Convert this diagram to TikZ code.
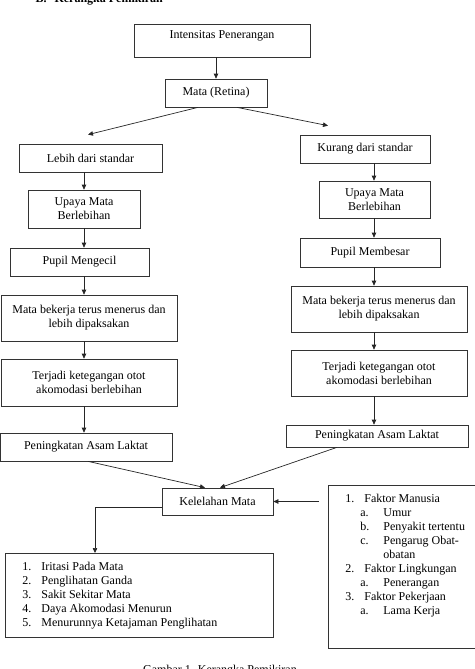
\documentclass[tikz,border=0pt]{standalone}
\usepackage{fontspec}
\setmainfont{Liberation Serif}
\usetikzlibrary{arrows.meta}

% list entries
\newcommand{\butir}[2]{\makebox[19pt][l]{#1}#2}
\newcommand{\subbutir}[2]{\hspace*{15pt}\makebox[23pt][l]{#1}#2}

\begin{document}
\begin{tikzpicture}[x = 1pt,
                    y = -1pt,
                    font = \fontsize{12}{14}\selectfont]
% styles of boxes and arrows
\tikzset{kotak/.style={draw=black!80,line width=0.7pt,align=center,inner sep=2pt},
         daftar/.style={draw=black!80,line width=0.7pt,anchor=north west,inner xsep=17pt,inner ysep=9pt},
         panah/.style={draw=black!85,line width=0.7pt,-{Triangle[length=5pt,width=4.5pt]}}}
\useasboundingbox (0,0) rectangle (474,669);
% columns of the vertical arrows
\coordinate (kolomkiri) at (84,0);
\coordinate (kolomkanan) at (374,0);

%title and caption
\node[anchor=base west,font=\fontsize{12}{14}\selectfont\bfseries] (judul) at (32,3)
  {\makebox[19pt][l]{B.}Kerangka Pemikiran};
\node[anchor=base] (keterangan) at (220,673) {Gambar 1. Kerangka Pemikiran};

%top
\node[kotak, minimum width=176pt, minimum height=33pt, text height=8.3pt, text depth=12pt]
  (intens) at (222,40.5) {Intensitas Penerangan};
\node[kotak, minimum width=102pt, minimum height=28pt] (mata) at (216,93) {Mata (Retina)};

%left branch
\node[kotak, minimum width=143pt, minimum height=28pt] (lebih) at (90.5,158) {Lebih dari standar};
\node[kotak, minimum width=112pt, minimum height=38pt] (upayakiri) at (84,209) {Upaya Mata\\Berlebihan};
\node[kotak, minimum width=139pt, minimum height=28pt] (pupilkiri) at (79.5,262) {Pupil Mengecil};
\node[kotak, minimum width=176pt, minimum height=46pt] (pakskiri) at (89,318)
  {Mata bekerja terus menerus dan\\lebih dipaksakan};
\node[kotak, minimum width=176pt, minimum height=47pt] (tegangkiri) at (89,382.5)
  {Terjadi ketegangan otot\\akomodasi berlebihan};
\node[kotak, minimum width=172pt, minimum height=28pt] (laktatkiri) at (86,447) {Peningkatan Asam Laktat};

%right branch
\node[kotak, minimum width=130pt, minimum height=28pt] (kurang) at (365,149) {Kurang dari standar};
\node[kotak, minimum width=111pt, minimum height=37pt] (upayakanan) at (374.5,199.5) {Upaya Mata\\Berlebihan};
\node[kotak, minimum width=140pt, minimum height=29pt] (pupilkanan) at (370,252.5) {Pupil Membesar};
\node[kotak, minimum width=176pt, minimum height=46pt] (pakskanan) at (379,309)
  {Mata bekerja terus menerus dan\\lebih dipaksakan};
\node[kotak, minimum width=176pt, minimum height=46pt] (tegangkanan) at (379,373)
  {Terjadi ketegangan otot\\akomodasi berlebihan};
\node[kotak, minimum width=182pt, minimum height=22pt] (laktatkanan) at (377,436) {Peningkatan Asam Laktat};

%bottom
\node[kotak, minimum width=111pt, minimum height=27pt] (lelah) at (217.5,501.5) {Kelelahan Mata};
\node[daftar] (gejala) at (5,553)
 {\begin{minipage}[t][66pt][t]{234pt}
  \butir{1.}{Iritasi Pada Mata}\\
  \butir{2.}{Penglihatan Ganda}\\
  \butir{3.}{Sakit Sekitar Mata}\\
  \butir{4.}{Daya Akomodasi Menurun}\\
  \butir{5.}{Menurunnya Ketajaman Penglihatan}
  \end{minipage}};
\node[daftar] (faktor) at (328,485)
 {\begin{minipage}[t][145pt][t]{126pt}
  \butir{1.}{Faktor Manusia}\\
  \subbutir{a.}{Umur}\\
  \subbutir{b.}{Penyakit tertentu}\\
  \subbutir{c.}{Pengarug Obat-}\\
  \hspace*{38pt}obatan\\
  \butir{2.}{Faktor Lingkungan}\\
  \subbutir{a.}{Penerangan}\\
  \butir{3.}{Faktor Pekerjaan}\\
  \subbutir{a.}{Lama Kerja}
  \end{minipage}};

%arrows
\draw[panah] (intens.south -| mata) -- (mata.north);
\draw[panah] ([xshift=-18pt]mata.south) -- ([xshift=-2.5pt,yshift=9pt]lebih.north);
\draw[panah] ([xshift=21pt]mata.south) -- ([xshift=-37pt,yshift=9pt]kurang.north);
\foreach \a/\b in {lebih/upayakiri, upayakiri/pupilkiri, pupilkiri/pakskiri,
                   pakskiri/tegangkiri, tegangkiri/laktatkiri}
  \draw[panah] (\a.south -| kolomkiri) -- (\b.north -| kolomkiri);
\foreach \a/\b in {kurang/upayakanan, upayakanan/pupilkanan, pupilkanan/pakskanan,
                   pakskanan/tegangkanan, tegangkanan/laktatkanan}
  \draw[panah] (\a.south -| kolomkanan) -- (\b.north -| kolomkanan);
\draw[panah] ([xshift=2pt]laktatkiri.south) -- ([xshift=-12.5pt]lelah.north);
\draw[panah] ([xshift=-40pt]laktatkanan.south) -- ([xshift=2.5pt]lelah.north);
\draw[panah, shorten <=9pt] (faktor.west |- lelah.east) -- (lelah.east);
\draw[panah] ([yshift=-5.5pt]lelah.west) -| ([xshift=90pt]gejala.north west);
\end{tikzpicture}
\end{document}
